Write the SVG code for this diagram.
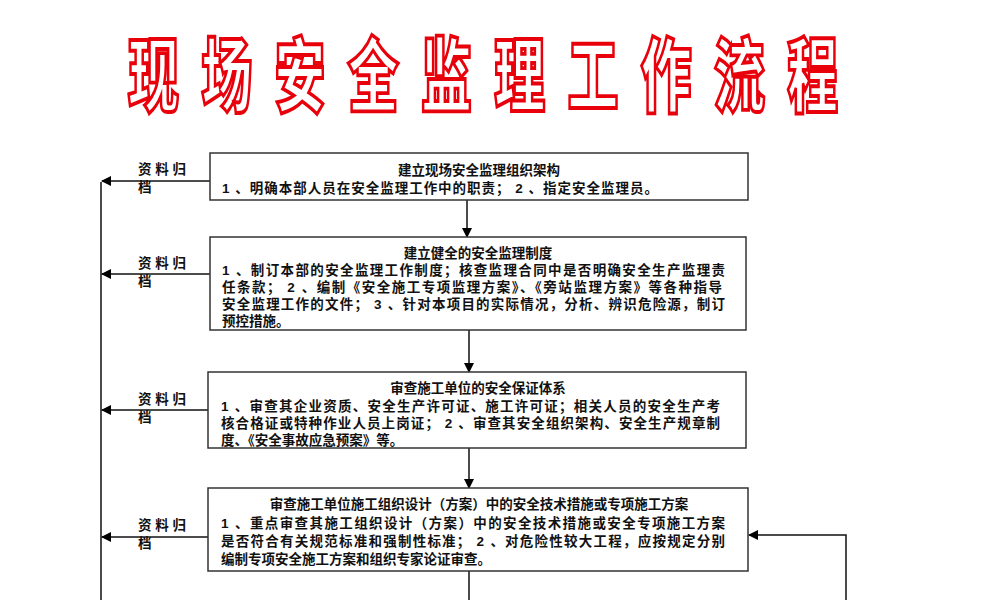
<svg xmlns="http://www.w3.org/2000/svg" width="1000" height="600" viewBox="0 0 1000 600">
<defs>
<marker id="ah" markerWidth="10" markerHeight="10" refX="9" refY="5" orient="auto" markerUnits="userSpaceOnUse"><path d="M0,0 L10,5 L0,10 z" fill="#000"/></marker>
<style>
.box{fill:#fff;stroke:#333;stroke-width:1.5}
.t{font-family:"Liberation Sans","Noto Sans CJK SC",sans-serif;font-size:13.5px;font-weight:bold;fill:#111}
.title{font-family:"Noto Sans CJK SC",sans-serif;font-size:62px;font-weight:900;fill:#fff;stroke:#e8000b;stroke-width:3}
.ln{stroke:#111;stroke-width:1.5;fill:none}
</style>
</defs>
<rect width="1000" height="600" fill="#fff"/>
<text class="title" transform="translate(128,105) scale(0.82,1.3)" x="0" y="0" textLength="866" lengthAdjust="spacing">现场安全监理工作流程</text>
<g id="connectors">
<line class="ln" x1="101" y1="182" x2="101" y2="600"/>
<line class="ln" x1="210" y1="181" x2="102" y2="181" marker-end="url(#ah)"/>
<line class="ln" x1="210" y1="274" x2="102" y2="274" marker-end="url(#ah)"/>
<line class="ln" x1="208" y1="410" x2="102" y2="410" marker-end="url(#ah)"/>
<line class="ln" x1="208" y1="537" x2="102" y2="537" marker-end="url(#ah)"/>
<line class="ln" x1="467" y1="200" x2="467" y2="237" marker-end="url(#ah)"/>
<line class="ln" x1="469" y1="330" x2="469" y2="372" marker-end="url(#ah)"/>
<line class="ln" x1="469" y1="448" x2="469" y2="488" marker-end="url(#ah)"/>
<line class="ln" x1="469" y1="571" x2="469" y2="600"/>
<polyline class="ln" points="846,600 846,535 749,535" marker-end="url(#ah)"/>
</g>
<g id="labels">
<text class="t" x="138" y="174">资 料 归</text><text class="t" x="138" y="192">档</text>
<text class="t" x="138" y="268">资 料 归</text><text class="t" x="138" y="286">档</text>
<text class="t" x="138" y="404">资 料 归</text><text class="t" x="138" y="422">档</text>
<text class="t" x="138" y="530">资 料 归</text><text class="t" x="138" y="548">档</text>
</g>
<g id="n1">
<rect class="box" x="210" y="153" width="538" height="47"/>
<text class="t" x="479" y="175" text-anchor="middle">建立现场安全监理组织架构</text>
<text class="t" x="222" y="193" textLength="436">1 、明确本部人员在安全监理工作中的职责； 2 、指定安全监理员。</text>
</g>
<g id="n2">
<rect class="box" x="210" y="237" width="536" height="93"/>
<text class="t" x="478" y="258" text-anchor="middle">建立健全的安全监理制度</text>
<text class="t" x="222" y="275" textLength="503">1 、制订本部的安全监理工作制度；核查监理合同中是否明确安全生产监理责</text>
<text class="t" x="222" y="292" textLength="500">任条款； 2 、编制《安全施工专项监理方案》、《旁站监理方案》等各种指导</text>
<text class="t" x="222" y="309" textLength="503">安全监理工作的文件； 3 、针对本项目的实际情况，分析、辨识危险源，制订</text>
<text class="t" x="222" y="326">预控措施。</text>
</g>
<g id="n3">
<rect class="box" x="208" y="372" width="538" height="76"/>
<text class="t" x="478" y="393" text-anchor="middle">审查施工单位的安全保证体系</text>
<text class="t" x="221" y="411" textLength="499">1 、审查其企业资质、安全生产许可证、施工许可证；相关人员的安全生产考</text>
<text class="t" x="221" y="428" textLength="499">核合格证或特种作业人员上岗证； 2 、审查其安全组织架构、安全生产规章制</text>
<text class="t" x="221" y="445">度、《安全事故应急预案》等。</text>
</g>
<g id="n4">
<rect class="box" x="208" y="488" width="540" height="83"/>
<text class="t" x="479" y="509" text-anchor="middle">审查施工单位施工组织设计（方案）中的安全技术措施或专项施工方案</text>
<text class="t" x="221" y="528" textLength="504">1 、重点审查其施工组织设计（方案）中的安全技术措施或安全专项施工方案</text>
<text class="t" x="221" y="546" textLength="504">是否符合有关规范标准和强制性标准； 2 、对危险性较大工程，应按规定分别</text>
<text class="t" x="221" y="564">编制专项安全施工方案和组织专家论证审查。</text>
</g>
</svg>
